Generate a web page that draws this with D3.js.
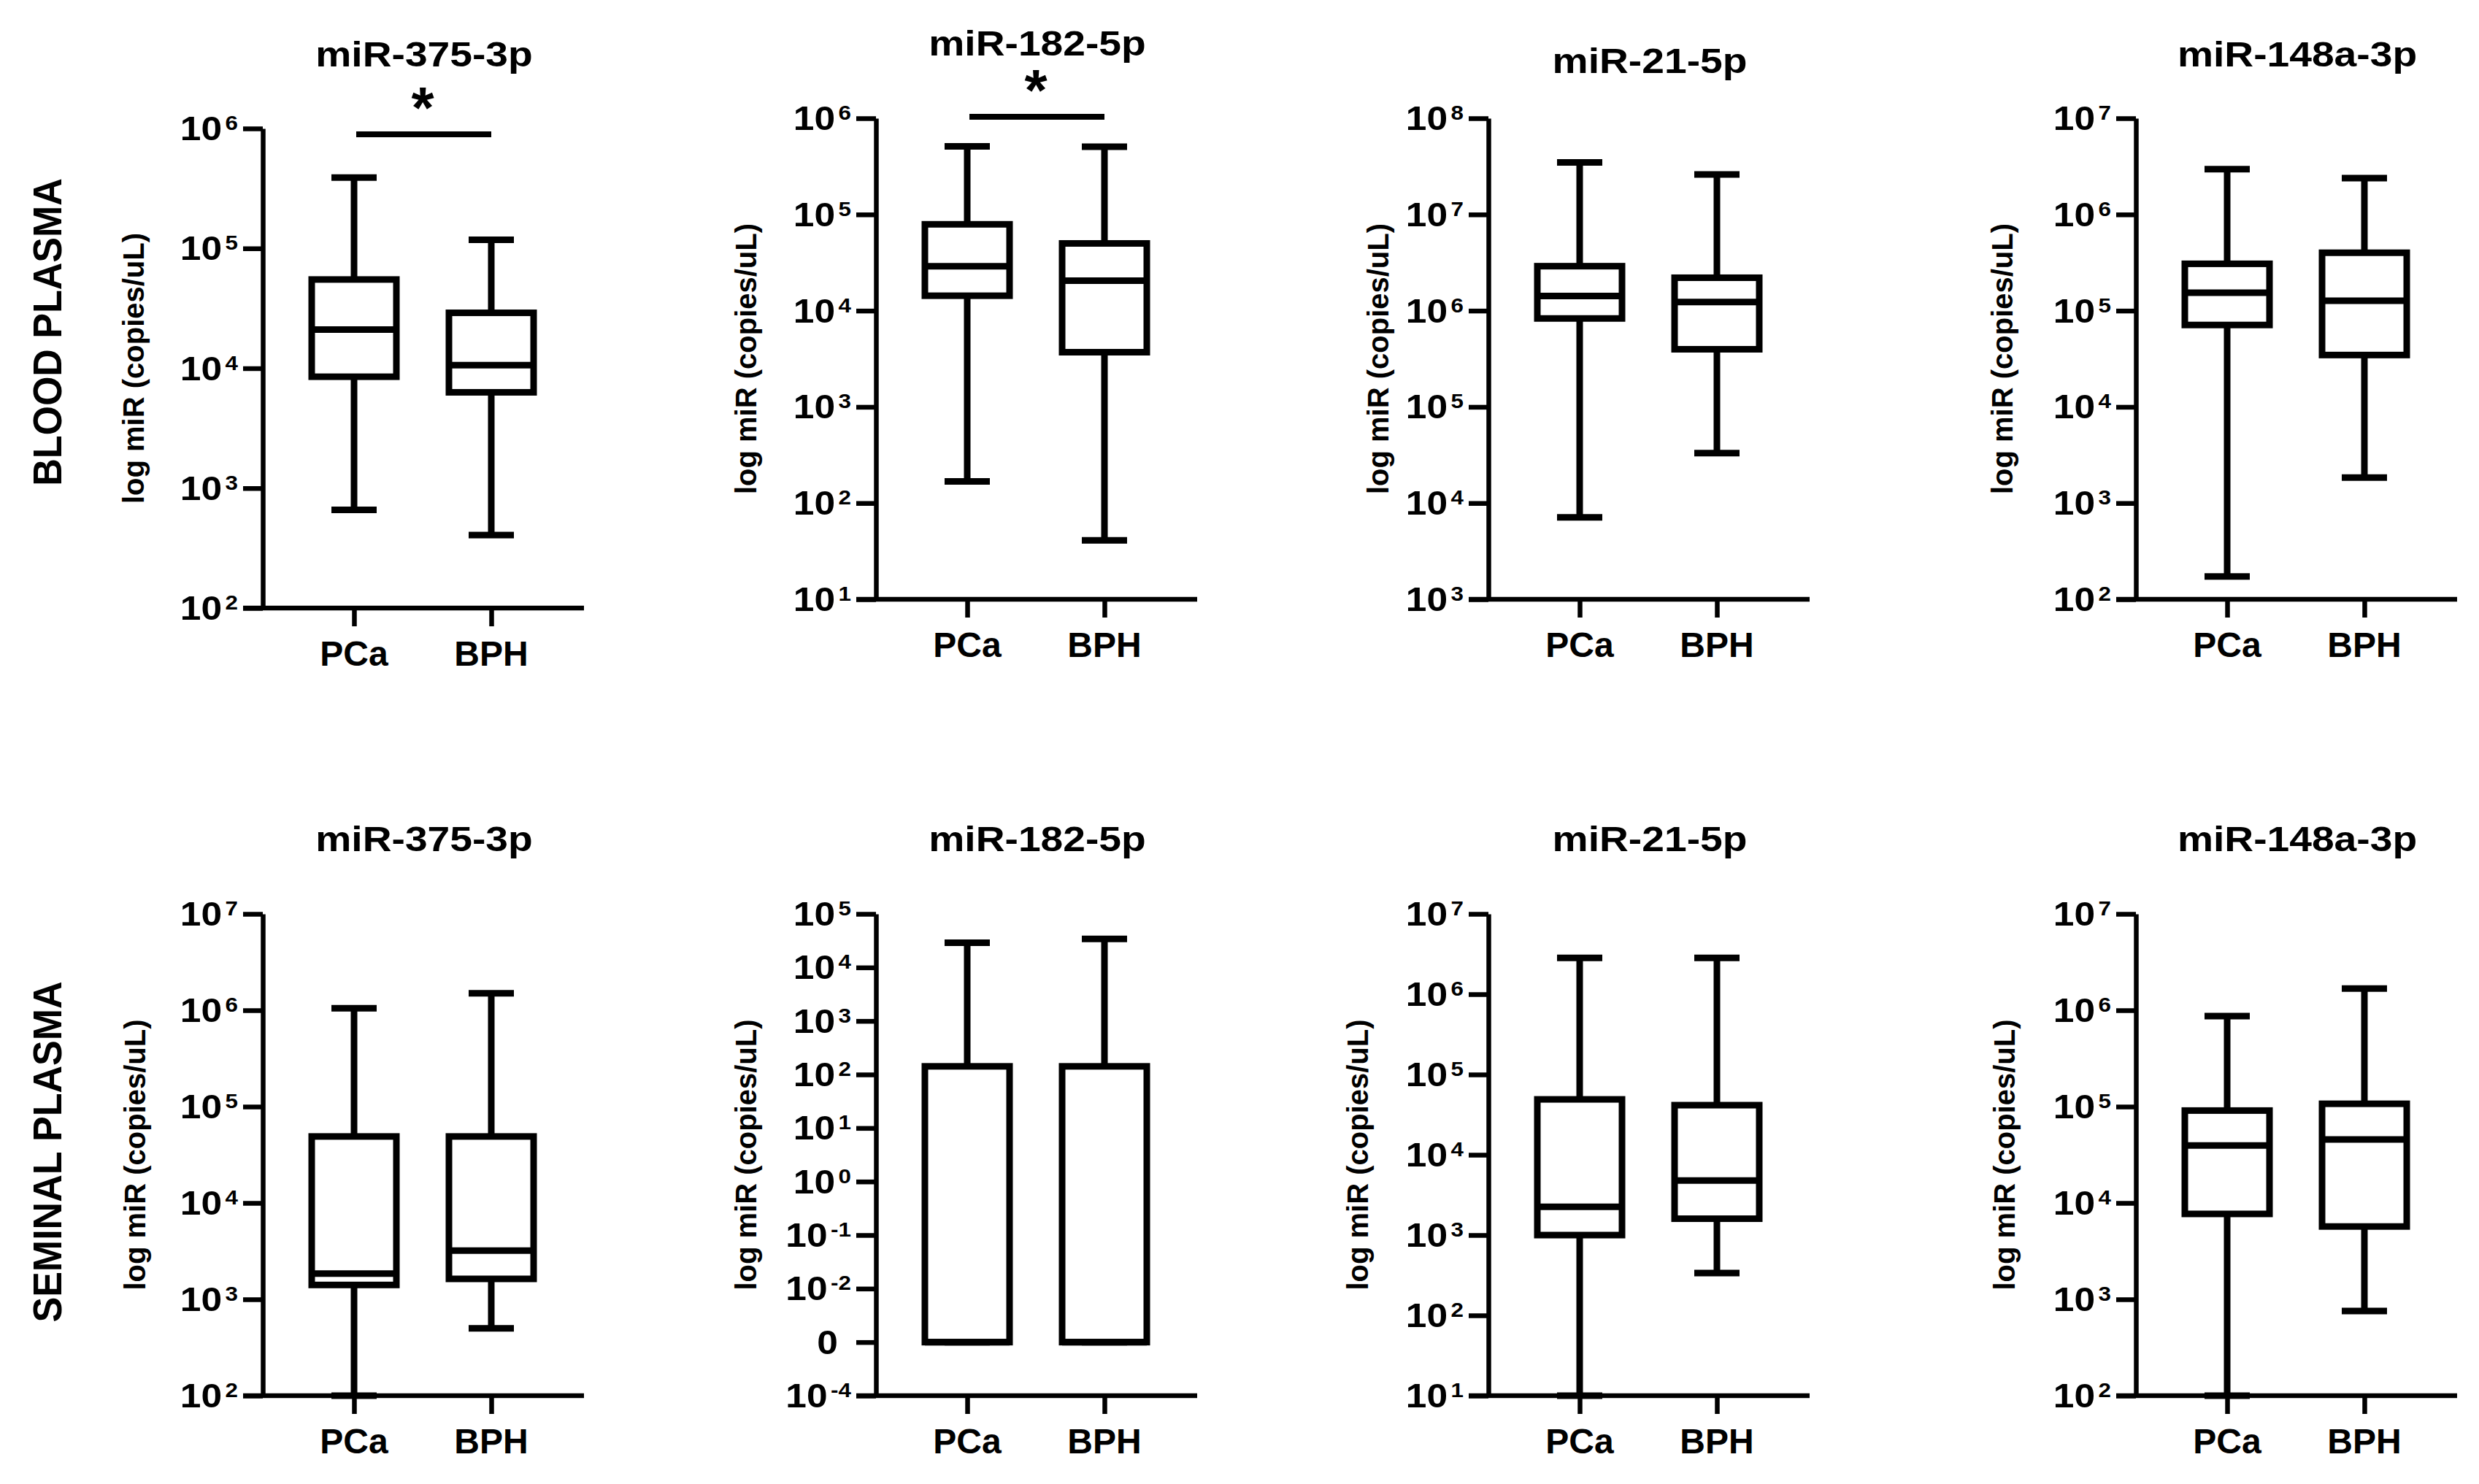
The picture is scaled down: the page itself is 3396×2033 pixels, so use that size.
<!DOCTYPE html>
<html><head><meta charset="utf-8">
<script src="https://cdn.jsdelivr.net/npm/d3@7"></script>
<style>
body{margin:0;background:#fff}
svg{display:block}
text{font-family:"Liberation Sans",Arial,sans-serif;font-weight:bold;fill:#000}
</style>
</head><body>
<script>
// ---------------- DATA ----------------
const groups = ["PCa", "BPH"];
const miRNAs = ["miR-375-3p", "miR-182-5p", "miR-21-5p", "miR-148a-3p"];
const sampleTypes = ["BLOOD PLASMA", "SEMINAL PLASMA"];
const yAxisTitle = "log miR (copies/uL)";

// five-number summaries per miRNA: [min, Q1, median, Q3, max] (copies/uL)
const bloodPCa = [
  [660, 8500, 21000, 55000, 390000],
  [168, 14300, 29000, 79000, 510000],
  [7100, 830000, 1420000, 2900000, 34700000],
  [173, 71000, 154000, 307000, 2960000]
];
const bloodBPH = [
  [406, 6300, 10600, 29000, 118000],
  [41, 3700, 20500, 50000, 505000],
  [33000, 397000, 1230000, 2200000, 26000000],
  [1840, 34600, 127000, 400000, 2390000]
];
const seminalPCa = [
  [100, 1410, 1850, 49000, 1050000],
  [0.001, 0.001, 0.001, 142, 29000],
  [10, 1000, 2250, 49000, 2840000],
  [100, 7700, 39500, 91000, 870000]
];
const seminalBPH = [
  [500, 1630, 3200, 49000, 1500000],
  [0.001, 0.001, 0.001, 142, 34000],
  [336, 1600, 4770, 41500, 2840000],
  [755, 5700, 45600, 107000, 1680000]
];

// y-axis decades (exponent ranges) per panel
const bloodAxisExponents = [[2, 6], [1, 6], [3, 8], [2, 7]];
const seminalAxisExponents = [[2, 7], [-4, 5], [1, 7], [2, 7]];
// the tick at 10^-3 of seminal miR-182-5p is labelled "0" in the original
const zeroLabelExponent = -3;

// significance marks (PCa vs BPH)
const bloodSignificance = ["*", "*", "", ""];
const seminalSignificance = ["", "", "", ""];

// ---------------- LAYOUT ----------------
const W = 3396, H = 2033;
const colAxisX = [360, 1200, 2039, 2926];
const rows = [
  { pca: bloodPCa, bph: bloodBPH, exps: bloodAxisExponents, sig: bloodSignificance,
    tops: [176, 162, 162, 162], bottoms: [833, 821, 821, 821],
    titleY: [91, 76, 100, 91], yLabelX: [183, 1022, 1888, 2743],
    sigY: [184, 160, 0, 0], starY: [137, 113, 0, 0], rowLabelY: 455 },
  { pca: seminalPCa, bph: seminalBPH, exps: seminalAxisExponents, sig: seminalSignificance,
    tops: [1252, 1252, 1252, 1252], bottoms: [1912, 1912, 1912, 1912],
    titleY: [1166, 1166, 1166, 1166], yLabelX: [185, 1022, 1860, 2746],
    sigY: [0, 0, 0, 0], starY: [0, 0, 0, 0], rowLabelY: 1578 }
];
const xAxisLen = 440, yTick = 27, xTick = 25;
const boxW = 116, capW = 62;
const boxStroke = 9, whiskerStroke = 9, axisStroke = 6.5;

const svg = d3.select("body").append("svg").attr("width", W).attr("height", H);
svg.append("rect").attr("width", W).attr("height", H).attr("fill", "#fff");

rows.forEach((row, ri) => {
  // row label
  svg.append("text")
    .attr("transform", `translate(84,${row.rowLabelY}) rotate(-90) scale(1,1.08)`)
    .attr("text-anchor", "middle").attr("font-size", 52)
    .text(sampleTypes[ri]);

  miRNAs.forEach((name, ci) => {
    const ax = colAxisX[ci];
    const top = row.tops[ci], bottom = row.bottoms[ci];
    const [e0, e1] = row.exps[ci];
    const y = d3.scaleLog().domain([Math.pow(10, e0), Math.pow(10, e1)]).range([bottom, top]);
    const x = d3.scalePoint().domain(groups).range([ax + 125, ax + 313]);
    const g = svg.append("g");

    // title
    g.append("text")
      .attr("transform", `translate(${ax + 221},${row.titleY[ci]}) scale(1.15,1)`)
      .attr("text-anchor", "middle").attr("font-size", 48).text(name);

    // y axis
    const exps = d3.range(e0, e1 + 1);
    const yAxis = d3.axisLeft(y).tickValues(exps.map(e => Math.pow(10, e)))
      .tickSize(yTick).tickSizeOuter(0).tickFormat("");
    const ya = g.append("g").attr("transform", `translate(${ax},0)`).call(yAxis);
    ya.select(".domain").attr("stroke", "#000").attr("stroke-width", axisStroke);
    ya.selectAll(".tick line").attr("stroke", "#000").attr("stroke-width", axisStroke);

    // y tick labels: 10^n (or "0")
    exps.forEach(e => {
      const ty = y(Math.pow(10, e));
      const t = g.append("text").attr("text-anchor", "end")
        .attr("transform", `translate(${ax - 34},${ty + 16}) scale(1.12,1)`)
        .attr("font-size", 46);
      if (ri === 1 && ci === 1 && e === zeroLabelExponent) {
        t.attr("transform", `translate(${ax - 52},${ty + 16}) scale(1.12,1)`).text("0");
      } else {
        t.append("tspan").text("10");
        t.append("tspan").attr("dx", 4).attr("dy", -14).attr("font-size", 28).text(e);
      }
    });

    // x axis
    g.append("line").attr("x1", ax - yTick).attr("x2", ax + xAxisLen)
      .attr("y1", bottom).attr("y2", bottom)
      .attr("stroke", "#000").attr("stroke-width", axisStroke);
    const xAxis = d3.axisBottom(x).tickSize(xTick).tickSizeOuter(0).tickFormat("");
    const xa = g.append("g").attr("transform", `translate(0,${bottom})`).call(xAxis);
    xa.select(".domain").remove();
    xa.selectAll(".tick line").attr("stroke", "#000").attr("stroke-width", axisStroke);
    groups.forEach(gr => {
      g.append("text").attr("x", x(gr)).attr("y", bottom + 79)
        .attr("text-anchor", "middle").attr("font-size", 48).text(gr);
    });

    // y axis title
    g.append("text")
      .attr("transform", `translate(${row.yLabelX[ci] + 14},${(top + bottom) / 2}) rotate(-90)`)
      .attr("text-anchor", "middle").attr("font-size", 40).text(yAxisTitle);

    // boxes
    const stats = [row.pca[ci], row.bph[ci]];
    groups.forEach((gr, gi) => {
      const [mn, q1, md, q3, mx] = stats[gi];
      const cx = x(gr);
      const bg = g.append("g").attr("stroke", "#000").attr("fill", "none");
      bg.append("line").attr("x1", cx).attr("x2", cx).attr("y1", y(mx)).attr("y2", y(q3))
        .attr("stroke-width", whiskerStroke);
      bg.append("line").attr("x1", cx).attr("x2", cx).attr("y1", y(q1)).attr("y2", y(mn))
        .attr("stroke-width", whiskerStroke);
      [mn, mx].forEach(v => {
        bg.append("line").attr("x1", cx - capW / 2).attr("x2", cx + capW / 2)
          .attr("y1", y(v)).attr("y2", y(v)).attr("stroke-width", whiskerStroke);
      });
      bg.append("rect").attr("x", cx - boxW / 2).attr("width", boxW)
        .attr("y", y(q3)).attr("height", Math.max(0, y(q1) - y(q3)))
        .attr("fill", "#fff").attr("stroke-width", boxStroke);
      bg.append("line").attr("x1", cx - boxW / 2).attr("x2", cx + boxW / 2)
        .attr("y1", y(md)).attr("y2", y(md)).attr("stroke-width", boxStroke);
    });

    // significance
    if (row.sig[ci]) {
      g.append("line").attr("x1", x(groups[0]) + 3).attr("x2", x(groups[1]))
        .attr("y1", row.sigY[ci]).attr("y2", row.sigY[ci])
        .attr("stroke", "#000").attr("stroke-width", 8);
      g.append("text").attr("x", (x(groups[0]) + x(groups[1])) / 2)
        .attr("y", row.starY[ci] + 38).attr("text-anchor", "middle")
        .attr("font-size", 80).text(row.sig[ci]);
    }
  });
});
</script>
</body></html>
